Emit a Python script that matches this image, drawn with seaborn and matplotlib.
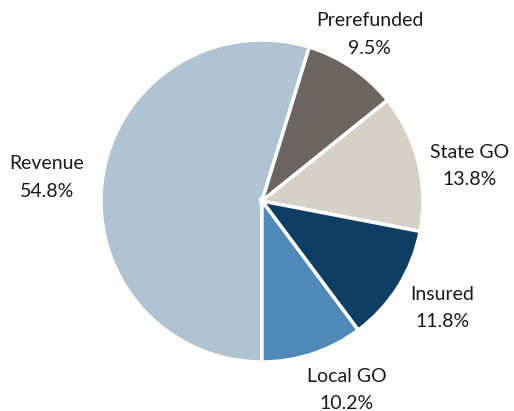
import numpy as np
import matplotlib
matplotlib.use("Agg")
import matplotlib.pyplot as plt
import seaborn as sns

sns.set_theme(style="white")
plt.rcParams["font.family"] = ["Lato", "DejaVu Sans"]

# data
categories = ["Revenue", "Prerefunded", "State GO", "Insured", "Local GO"]
shares = [54.8, 9.5, 13.8, 11.8, 10.2]
colors = ["#B0C3D3", "#6B6662", "#D5D1C6", "#0E3E64", "#4E89B8"]

# label placement (style)
label_radius = [1.343, 1.230, 1.309, 1.304, 1.285]
label_shift = [2.3, 1.3, -4.4, 1.4, 5.8]

fig = plt.figure(figsize=(5.14, 4.11), dpi=100)
ax = fig.add_axes([0, 0, 1, 1])

wedges, _ = ax.pie(shares, colors=colors, startangle=270, counterclock=False,
                   radius=1.0, wedgeprops=dict(edgecolor="white", linewidth=2.5))

for w, name, val, r, d in zip(wedges, categories, shares, label_radius, label_shift):
    mid = np.deg2rad((w.theta1 + w.theta2) / 2 + d)
    ax.text(r * np.cos(mid), r * np.sin(mid), f"{name}\n{val:.1f}%",
            ha="center", va="center", fontsize=14, color="#1a1a1a", linespacing=1.75)

ax.set_aspect("auto")
ax.set_xlim(-262 / 161, (514 - 262) / 161)
ax.set_ylim(-(411 - 201) / 161, 201 / 161)
ax.axis("off")

fig.savefig("out.png", dpi=100, facecolor="white")
